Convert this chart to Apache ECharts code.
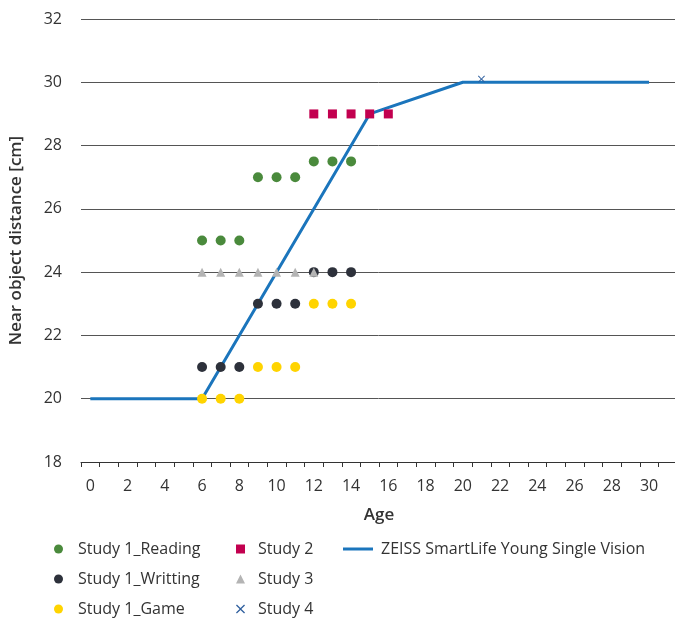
<!DOCTYPE html>
<html>
<head>
<meta charset="utf-8">
<script src="https://cdn.jsdelivr.net/npm/echarts@6/dist/echarts.min.js"></script>
<style>
  html, body { margin: 0; padding: 0; background: #fff; }
  #chart { width: 675px; height: 620px; }
</style>
</head>
<body>
<div id="chart"></div>
<script>
// categories on the age axis (one extra empty slot at the right end)
const ages = [];
for (let a = 0; a <= 31; a++) ages.push(String(a));

// Study 1 (three tasks)
const readingAges = [6, 7, 8, 9, 10, 11, 12, 13, 14];
const readingVals = [25, 25, 25, 27, 27, 27, 27.5, 27.5, 27.5];

const writingAges = [6, 7, 8, 9, 10, 11, 12, 13, 14];
const writingVals = [21, 21, 21, 23, 23, 23, 24, 24, 24];

const gameAges = [6, 7, 8, 9, 10, 11, 12, 13, 14];
const gameVals = [20, 20, 20, 21, 21, 21, 23, 23, 23];

// Study 2..4
const study2Ages = [12, 13, 14, 15, 16];
const study2Vals = [29, 29, 29, 29, 29];

const study3Ages = [6, 7, 8, 9, 10, 11, 12];
const study3Vals = [24, 24, 24, 24, 24, 24, 24];

const study4Ages = [21];
const study4Vals = [30.1];

// lens design curve
const lensAges = [0, 6, 15, 20, 30];
const lensVals = [20, 20, 29, 30, 30];

const pairs = (xs, ys) => xs.map((x, i) => [x, ys[i]]);

const FONT = '"Open Sans", "Noto Sans", sans-serif';
const crossPath = 'path://M0,1L1,0L5,4L9,0L10,1L6,5L10,9L9,10L5,6L1,10L0,9L4,5Z';

const chart = echarts.init(document.getElementById('chart'));

const legendText = (pad) => ({ color: '#333', fontSize: 16, fontFamily: FONT, padding: [0, 0, 0, pad] });

chart.setOption({
  animation: false,
  textStyle: { fontFamily: FONT },
  grid: { left: 81, top: 19, width: 596, height: 443, outerBoundsMode: 'none', containLabel: false },
  legend: [
    {
      orient: 'vertical', left: 49, top: 536, height: 110, itemGap: 14,
      itemWidth: 9, itemHeight: 9, textStyle: legendText(10),
      data: ['Study 1_Reading', 'Study 1_Writting', 'Study 1_Game']
    },
    {
      orient: 'vertical', left: 231, top: 536, height: 110, itemGap: 14,
      itemWidth: 9, itemHeight: 9, textStyle: legendText(8),
      data: ['Study 2', 'Study 3', 'Study 4']
    },
    {
      orient: 'vertical', left: 338, top: 536, height: 110, itemGap: 14,
      itemWidth: 30, itemHeight: 3, textStyle: legendText(3),
      data: [{ name: 'ZEISS SmartLife Young Single Vision', icon: 'rect' }]
    }
  ],
  xAxis: {
    type: 'category',
    data: ages,
    boundaryGap: true,
    name: 'Age',
    nameLocation: 'middle',
    nameGap: 45,
    nameTextStyle: { color: '#333', fontSize: 17, fontWeight: 600, fontFamily: FONT },
    axisLine: { lineStyle: { color: '#333', width: 1 } },
    axisTick: { show: true, interval: 0, length: 5, lineStyle: { color: '#333' } },
    axisLabel: { interval: 1, margin: 16, color: '#333', fontSize: 16, fontFamily: FONT },
    splitLine: { show: false }
  },
  yAxis: {
    type: 'value',
    min: 18,
    max: 32,
    interval: 2,
    name: 'Near object distance [cm]',
    nameLocation: 'middle',
    nameGap: 56,
    nameTextStyle: { color: '#333', fontSize: 17, fontWeight: 600, fontFamily: FONT },
    axisLine: { show: false },
    axisTick: { show: false },
    axisLabel: { margin: 19, color: '#333', fontSize: 16, fontFamily: FONT },
    splitLine: { lineStyle: { color: '#555', width: 1 } }
  },
  series: [
    {
      name: 'Study 1_Reading', type: 'scatter', symbol: 'circle', symbolSize: 10,
      itemStyle: { color: '#4A8A3C', opacity: 1 }, data: pairs(readingAges, readingVals), z: 3
    },
    {
      name: 'Study 1_Writting', type: 'scatter', symbol: 'circle', symbolSize: 10,
      itemStyle: { color: '#2D313B', opacity: 1 }, data: pairs(writingAges, writingVals), z: 3
    },
    {
      name: 'Study 1_Game', type: 'scatter', symbol: 'circle', symbolSize: 10,
      itemStyle: { color: '#FFD400', opacity: 1 }, data: pairs(gameAges, gameVals), z: 3
    },
    {
      name: 'Study 2', type: 'scatter', symbol: 'rect', symbolSize: 9,
      itemStyle: { color: '#C2004F', opacity: 1 }, data: pairs(study2Ages, study2Vals), z: 3
    },
    {
      name: 'Study 3', type: 'scatter', symbol: 'triangle', symbolSize: 9,
      itemStyle: { color: '#B4B4B4', opacity: 1 }, data: pairs(study3Ages, study3Vals), z: 4
    },
    {
      name: 'Study 4', type: 'scatter', symbol: crossPath, symbolSize: 7,
      itemStyle: { color: '#2F5F9E', opacity: 1 }, data: pairs(study4Ages, study4Vals), z: 4
    },
    {
      name: 'ZEISS SmartLife Young Single Vision', type: 'line', symbol: 'none',
      lineStyle: { color: '#1B75BC', width: 3 }, itemStyle: { color: '#1B75BC' },
      data: pairs(lensAges, lensVals), z: 2
    }
  ]
});
</script>
</body>
</html>
